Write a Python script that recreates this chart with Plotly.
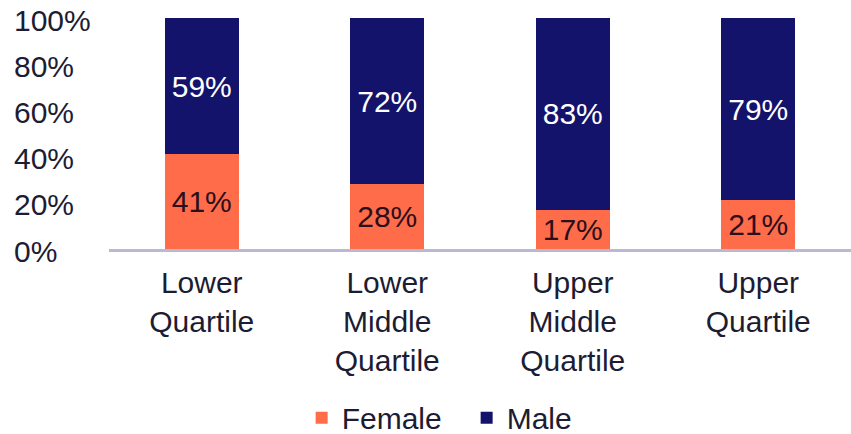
import plotly.graph_objects as go

categories = ["Lower<br>Quartile", "Lower<br>Middle<br>Quartile", "Upper<br>Middle<br>Quartile", "Upper<br>Quartile"]
female = [41, 28, 17, 21]
male = [59, 72, 83, 79]
y_ticks = [0, 20, 40, 60, 80, 100]
y_tick_labels = ["0%", "20%", "40%", "60%", "80%", "100%"]

FONT = "Arial, Liberation Sans, sans-serif"
TXT = "#1c1c33"
ORANGE = "#FF6C4A"
NAVY = "#13136B"
FS = 30

fig = go.Figure()
fig.add_bar(x=categories, y=female, name="Female", marker_color=ORANGE, marker_line_width=0,
            text=[f"{v}%" for v in female], textposition="inside", insidetextanchor="middle",
            textfont=dict(color="#2a0f1c", size=FS, family=FONT), width=0.4)
fig.add_bar(x=categories, y=male, name="Male", marker_color=NAVY, marker_line_width=0,
            text=[f"{v}%" for v in male], textposition="inside", insidetextanchor="middle",
            textfont=dict(color="white", size=FS, family=FONT), width=0.4)

for v, t in zip(y_ticks, y_tick_labels):
    fig.add_annotation(x=-0.131, xref="paper", y=v, yref="y", text=t, showarrow=False,
                       xanchor="left", yanchor="middle", yshift=-2,
                       font=dict(size=FS, color=TXT, family=FONT))

fig.update_layout(
    width=851, height=434, barmode="stack",
    margin=dict(l=109, r=0, t=18, b=185, autoexpand=False),
    plot_bgcolor="white", paper_bgcolor="white",
    font=dict(family=FONT, color=TXT, size=FS),
    uniformtext=dict(minsize=10, mode="show"),
    bargap=0.6,
    legend=dict(orientation="h", x=0.482, xanchor="center", y=-0.73, yanchor="middle",
                font=dict(size=FS, color=TXT, family=FONT), itemwidth=30,
                entrywidth=120, entrywidthmode="pixels",
                traceorder="normal"),
    xaxis=dict(showline=True, linecolor="#B9B9D1", linewidth=3, ticks="",
               tickfont=dict(size=FS, color=TXT, family=FONT), range=[-0.5, 3.5],
               ticklabelstandoff=5),
    yaxis=dict(range=[0, 100], tickvals=y_ticks, showticklabels=False, showgrid=False,
               zeroline=False),
)

fig.write_html("out.html")
